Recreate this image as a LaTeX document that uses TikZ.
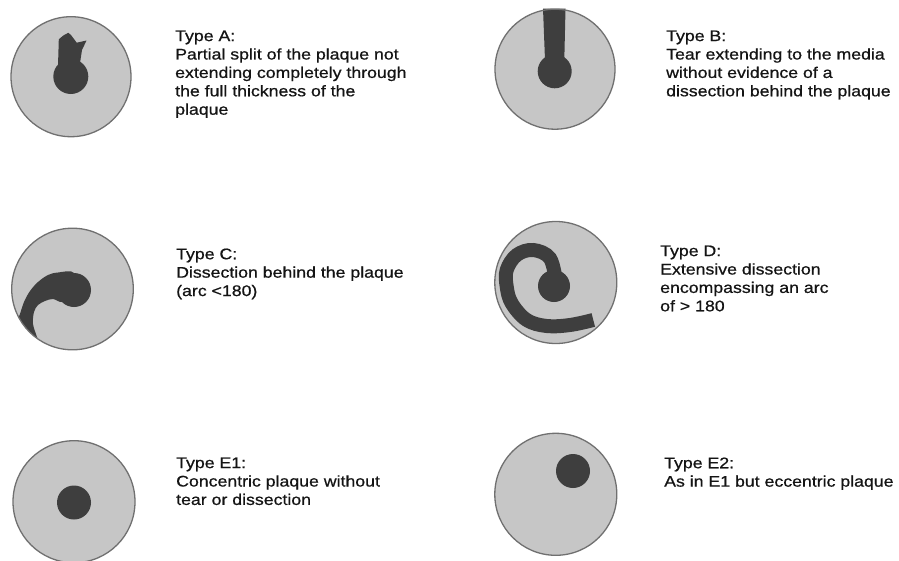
\documentclass[tikz,border=0pt]{standalone}
\usepackage{fontspec}
\setmainfont{Liberation Sans}[FakeStretch=1.15,FakeBold=0.7]
\definecolor{lumen}{RGB}{198,198,198}
\definecolor{rim}{RGB}{112,112,112}
\definecolor{plaquec}{RGB}{62,62,62}
\definecolor{ink}{RGB}{20,20,20}
\begin{document}
\begin{tikzpicture}[x=1pt,y=-1pt,
  vessel/.style={fill=lumen},
  rimline/.style={draw=rim, line width=1.3pt},
  plaque/.style={fill=plaquec},
  caption/.style={anchor=north west, inner sep=0pt, align=left, text=ink,
    font=\fontsize{15.4pt}{18.4pt}\selectfont}]
\useasboundingbox[fill=white] (0,0) rectangle (899,560);

% Type A: partial split of the plaque
\fill[vessel] (71,76.7) circle (60);
\fill[plaque] (70.8,76.5) circle (17.5);
\fill[plaque] (58,66) -- (58.8,39.3) -- (63.3,35.5) -- (68.3,32.8) -- (71,35)
  -- (76.7,42.7) -- (86.5,40.5) -- (82,50) -- (80,63) -- cycle;
\draw[rimline] (71,76.7) circle (60);

% Type B: tear to the media
\fill[vessel] (555,69.2) circle (60);
\fill[plaque] (554.7,71.3) circle (17);
\fill[plaque] (543,8.5) -- (565.5,8.5) -- (564.3,60) -- (545,60) -- cycle;
\draw[rimline] (555,69.2) circle (60);

% Type C: dissection behind the plaque, arc < 180
\fill[vessel] (72.5,289) circle (60.8);
\begin{scope}
  \clip (72.5,289) circle (60.8);
  \fill[plaque] (74,290) circle (17);
  \fill[plaque] plot[smooth cycle, tension=0.55] coordinates {
    (74,273) (58,272.5) (48,275) (38,282) (30,291) (24,302) (20,314) (15,330)
    (25,352) (42,352) (37,337) (33,324) (34,312) (38,305) (45,301) (53,299)
    (62,302) (74,296)};
\end{scope}
\draw[rimline] (72.5,289) circle (60.8);

% Type D: extensive dissection, arc > 180
\fill[vessel] (555.8,282.5) circle (61);
\fill[plaque] (554,286) circle (16);
\draw[plaquec, line width=14pt] plot[smooth, tension=0.6] coordinates {
  (556,282) (550,258.3) (533.3,250) (516.7,255) (506.7,270) (506.7,286.7)
  (511.7,303.3) (526.7,320) (546.7,326) (570,325) (593.3,320)};
\draw[rimline] (555.8,282.5) circle (61);

% Type E1: concentric plaque
\fill[vessel] (74,501.7) circle (61);
\fill[plaque] (74,502.5) circle (17);
\draw[rimline] (74,501.7) circle (61);

% Type E2: eccentric plaque
\fill[vessel] (555.8,494.3) circle (61);
\fill[plaque] (573,471) circle (17);
\draw[rimline] (555.8,494.3) circle (61);

% Captions
\node[caption] (capA) at (175,30.3) {Type A:\\Partial split of the plaque not\\extending completely through\\the full thickness of the\\plaque};
\node[caption] (capB) at (666,30.3) {Type B:\\Tear extending to the media\\without evidence of a\\dissection behind the plaque};
\node[caption] (capC) at (176,248.3) {Type C:\\Dissection behind the plaque\\(arc {<}180)};
\node[caption] (capD) at (660,245.3) {Type D:\\Extensive dissection\\encompassing an arc\\of {>} 180};
\node[caption] (capE1) at (176,457.3) {Type E1:\\Concentric plaque without\\tear or dissection};
\node[caption] (capE2) at (664,457.3) {Type E2:\\As in E1 but eccentric plaque};
\end{tikzpicture}
\end{document}
